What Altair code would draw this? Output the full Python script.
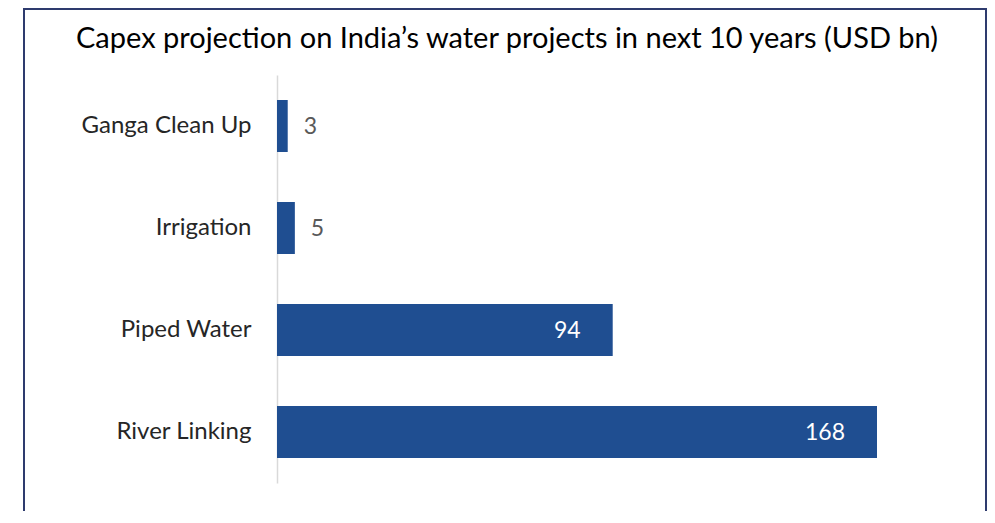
import altair as alt
import pandas as pd

categories = ["Ganga Clean Up", "Irrigation", "Piped Water", "River Linking"]
values = [3, 5, 94, 168]
title_text = "Capex projection on India\u2019s water projects in next 10 years (USD bn)"

FONT = "Lato"
BAR = "#1F4E91"

df = pd.DataFrame({"project": categories, "capex": values})

base = alt.Chart(df)

y_enc = alt.Y(
    "project:N",
    sort=categories,
    scale=alt.Scale(paddingInner=0.49, paddingOuter=0.245),
    axis=alt.Axis(
        title=None, ticks=False, labelPadding=26, labelFontSize=24,
        labelFont=FONT, labelColor="#262626", domainColor="#D9D9D9",
        domainWidth=1.5, grid=False,
    ),
)
x_enc = alt.X("capex:Q", scale=alt.Scale(domain=[0, 168], nice=False, zero=True), axis=None)

bars = base.mark_bar(color=BAR).encode(y=y_enc, x=x_enc)

outside = base.transform_filter("datum.capex < 50").mark_text(
    align="left", baseline="middle", dx=16, dy=1, font=FONT, fontSize=23, color="#595959"
).encode(y=alt.Y("project:N", sort=categories), x="capex:Q", text="capex:Q")

inside = base.transform_filter("datum.capex >= 50").mark_text(
    align="right", baseline="middle", dx=-32, dy=1, font=FONT, fontSize=23, color="white"
).encode(y=alt.Y("project:N", sort=categories), x="capex:Q", text="capex:Q")

title_df = pd.DataFrame({"t": [title_text]})
title = alt.Chart(title_df).mark_text(
    align="center", baseline="alphabetic", font=FONT, fontSize=29, color="#000000"
).encode(x=alt.value(230), y=alt.value(-27), text="t:N")

border = alt.Chart(title_df).mark_rect(
    fill=None, stroke="#2E3B6E", strokeWidth=2
).encode(x=alt.value(-253), x2=alt.value(709), y=alt.value(-66), y2=alt.value(480))

chart = alt.layer(border, bars, outside, inside, title).properties(
    width=600, height=408,
    autosize=alt.AutoSizeParams(type="none"),
    padding={"left": 269, "top": 67, "right": 110, "bottom": 28},
).configure_view(stroke=None)

chart.save("out.html", embed_options={"renderer": "svg", "actions": False})
